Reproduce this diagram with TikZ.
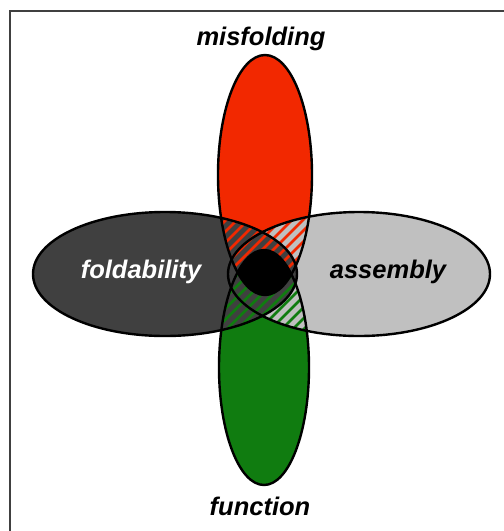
\documentclass[tikz,border=0pt]{standalone}
\usepackage{fontspec}
\setmainfont{Liberation Sans}
\usetikzlibrary{positioning}
\definecolor{misred}{RGB}{242,40,0}
\definecolor{fungreen}{RGB}{16,124,16}
\definecolor{folddark}{RGB}{64,64,64}
\definecolor{asmlight}{RGB}{192,192,192}
\newcommand{\misfoldpath}{(265,175) ellipse (47 and 120)}
\newcommand{\functionpath}{(264,367.5) ellipse (45 and 117.5)}
\newcommand{\foldpath}{(165,274) ellipse (132 and 62)}
\newcommand{\assemblypath}{(359,274) ellipse (131 and 62)}

\begin{document}
\begin{tikzpicture}[x=1pt,y=-1pt,
    rim/.style={line width=2.4pt,black},
    hatch/.style={line width=2.5pt},
    word/.style={font=\fontsize{25.5}{30}\selectfont\bfseries\itshape,inner sep=0pt,anchor=base}]
    \useasboundingbox (0,0) rectangle (504,531);
    %Frame
    \draw[line width=1.8pt,black!75] (10,531) -- (10,11) -- (504,11);
    %Fills
    \fill[misred] \misfoldpath;
    \fill[fungreen] \functionpath;
    \fill[asmlight] \assemblypath;
    \fill[folddark] \foldpath;
    %Red hatching
    \begin{scope}
      \clip \misfoldpath;
      \foreach \c in {380,391,...,720}
        \draw[hatch,misred] (\c-370,370) -- (\c-180,180);
    \end{scope}
    %Green hatching
    \begin{scope}
      \clip \functionpath;
      \foreach \c in {380,391,...,720}
        \draw[hatch,fungreen] (\c-370,370) -- (\c-180,180);
    \end{scope}
    %Core
    \begin{scope}
      \clip \misfoldpath;
      \fill[black] \functionpath;
    \end{scope}
    %Outlines
    \draw[rim] \foldpath;
    \draw[rim] \assemblypath;
    \draw[rim] \misfoldpath;
    \draw[rim] \functionpath;
    %Labels
    \node[word] (misfolding) at (261,45) {misfolding};
    \node[word] (function) at (260,515) {function};
    \node[word,white] (foldability) at (141,278) {foldability};
    \node[word] (assembly) at (388,278) {assembly};
\end{tikzpicture}
\end{document}
